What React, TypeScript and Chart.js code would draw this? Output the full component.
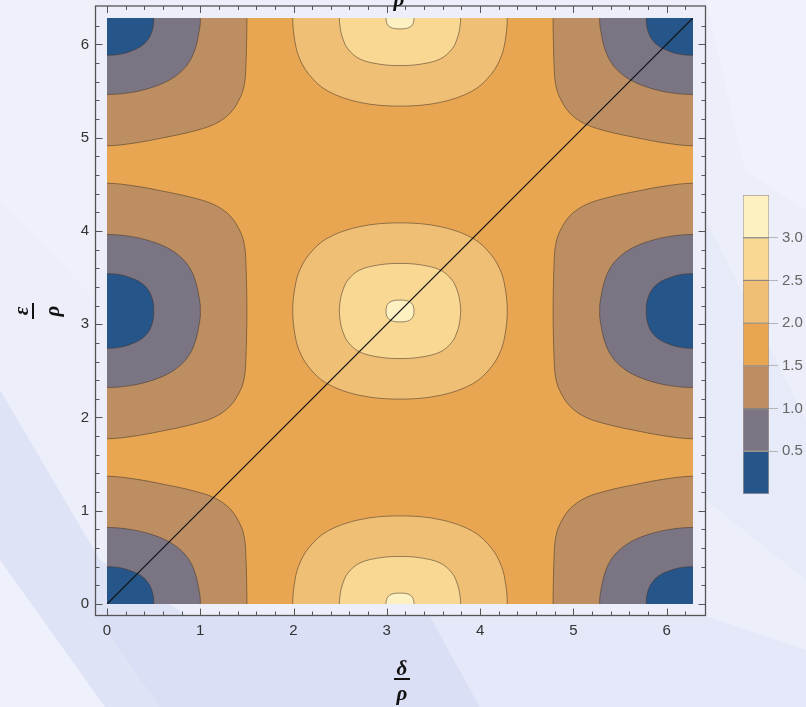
import React, { useEffect, useRef } from 'react';
import { Chart, registerables } from 'chart.js';

Chart.register(...registerables);

const PI = Math.PI;
const TWO_PI = 2 * Math.PI;

// Contour levels; band i lies between LEVELS[i] and LEVELS[i + 1]
const LEVELS = [0, 0.5, 1.0, 1.5, 2.0, 2.5, 3.0, 3.5];
const BAND_COLORS = ['#26558a', '#7b7483', '#bc8e62', '#e8a653', '#f0bf76', '#f9d894', '#fdf1c2'];
const CONTOUR_LINE = 'rgba(70, 55, 40, 0.55)';

// Axis ticks
const X_TICKS = [0, 1, 2, 3, 4, 5, 6];
const Y_TICKS = [0, 1, 2, 3, 4, 5, 6];
const BAR_TICKS = [0.5, 1.0, 1.5, 2.0, 2.5, 3.0];

// Minima (wells) and maxima (peaks) of the surface, in (δ/ρ, ε/ρ)
const WELL_CENTERS = [[0, 0], [0, PI], [0, TWO_PI], [TWO_PI, 0], [TWO_PI, PI], [TWO_PI, TWO_PI]];
const PEAK_CENTERS = [[PI, 0], [PI, PI], [PI, TWO_PI]];

// Quarter outlines of each contour (offsets from the centre, upper-right
// quadrant), running from the top of the curve round to its right side.
const WELL_05 = [[0, 0.40], [0.14, 0.39], [0.27, 0.35], [0.37, 0.30], [0.44, 0.23], [0.48, 0.15], [0.5, 0.06], [0.5, 0]];
const WELL_10 = [[0, 0.82], [0.25, 0.80], [0.48, 0.745], [0.67, 0.665], [0.81, 0.56], [0.90, 0.44], [0.955, 0.30], [0.985, 0.16], [1.0, 0.06], [1.0, 0]];
const WELL_15 = [[0, 1.37], [0.3, 1.34], [0.6, 1.285], [0.9, 1.22], [1.15, 1.14], [1.32, 1.02], [1.43, 0.85], [1.475, 0.7], [1.49, 0.5], [1.497, 0.25], [1.5, 0.08], [1.5, 0]];
const PEAK_20 = [[0, 0.945], [0.43, 0.905], [0.78, 0.78], [0.98, 0.60], [1.09, 0.40], [1.135, 0.2], [1.149, 0.06], [1.15, 0]];
const PEAK_25 = [[0, 0.51], [0.22, 0.495], [0.43, 0.44], [0.56, 0.33], [0.62, 0.2], [0.645, 0.08], [0.65, 0]];
const PEAK_30 = [[0, 0.117], [0.06, 0.113], [0.105, 0.098], [0.135, 0.07], [0.148, 0.03], [0.15, 0]];

// Diagonal ε = δ
const DIAGONAL = [[0, 0], [TWO_PI, TWO_PI]];

const TICK_FONT = { family: '"Liberation Sans", Arial, sans-serif', size: 15 };
const TITLE_FONT = 'italic bold 21px "Liberation Serif", "DejaVu Serif", serif';

// Close a quarter outline into a full loop by mirroring it into the other quadrants.
function ring(q: number[][]): number[][] {
  const ul = q.slice().reverse().map(([x, y]) => [-x, y]);
  const ur = q.slice(1);
  const lr = q.slice().reverse().slice(1).map(([x, y]) => [x, -y]);
  const ll = q.slice(1).map(([x, y]) => [-x, -y]);
  return [...ul, ...ur, ...lr, ...ll];
}

function contour(q: number[][], centre: number[], color: string) {
  const [cx, cy] = centre;
  return {
    data: ring(q).map(([dx, dy]) => ({ x: cx + dx, y: cy + dy })),
    fill: 'shape',
    backgroundColor: color,
    borderColor: CONTOUR_LINE,
    borderWidth: 1,
    pointRadius: 0,
    tension: 0.35,
  };
}

function buildDatasets() {
  // painted from the outside in
  const painted: any[] = [];
  WELL_CENTERS.forEach((c) => painted.push(contour(WELL_15, c, BAND_COLORS[2])));
  WELL_CENTERS.forEach((c) => painted.push(contour(WELL_10, c, BAND_COLORS[1])));
  WELL_CENTERS.forEach((c) => painted.push(contour(WELL_05, c, BAND_COLORS[0])));
  PEAK_CENTERS.forEach((c) => painted.push(contour(PEAK_20, c, BAND_COLORS[4])));
  PEAK_CENTERS.forEach((c) => painted.push(contour(PEAK_25, c, BAND_COLORS[5])));
  PEAK_CENTERS.forEach((c) => painted.push(contour(PEAK_30, c, BAND_COLORS[6])));
  const diagonal = {
    data: DIAGONAL.map(([x, y]) => ({ x, y })),
    fill: false,
    borderColor: '#111',
    borderWidth: 1.2,
    pointRadius: 0,
    tension: 0,
  };
  // Chart.js draws dataset 0 last, i.e. on top
  return [diagonal, ...painted.reverse()];
}

const framePlugin = {
  id: 'contourFrame',
  beforeDraw(chart: any) {
    const { ctx, chartArea: a } = chart;
    ctx.save();
    ctx.fillStyle = BAND_COLORS[3];
    ctx.fillRect(a.left, a.top, a.right - a.left, a.bottom - a.top);
    ctx.restore();
  },
  afterDraw(chart: any) {
    const { ctx, chartArea: a, scales } = chart;
    const xs = scales.x;
    const ys = scales.y;
    const L = a.left - 11.5;
    const R = a.right + 12.5;
    const T = a.top - 12;
    const B = a.bottom + 11.5;

    ctx.save();
    ctx.strokeStyle = '#555';
    ctx.lineWidth = 1.3;
    ctx.strokeRect(L, T, R - L, B - T);

    const minor: number[] = [];
    for (let k = 1; k < 32; k++) if (k % 5 !== 0) minor.push(k * 0.2);

    ctx.lineWidth = 1;
    ctx.beginPath();
    const xTick = (v: number, len: number) => {
      const p = Math.round(xs.getPixelForValue(v)) + 0.5;
      ctx.moveTo(p, B); ctx.lineTo(p, B - len);
      ctx.moveTo(p, T); ctx.lineTo(p, T + len);
    };
    const yTick = (v: number, len: number) => {
      const p = Math.round(ys.getPixelForValue(v)) + 0.5;
      ctx.moveTo(L, p); ctx.lineTo(L + len, p);
      ctx.moveTo(R, p); ctx.lineTo(R - len, p);
    };
    X_TICKS.forEach((v) => xTick(v, 7));
    Y_TICKS.forEach((v) => yTick(v, 7));
    minor.forEach((v) => { xTick(v, 4); yTick(v, 4); });
    ctx.stroke();

    // axis titles as stacked fractions
    ctx.fillStyle = '#111';
    ctx.font = TITLE_FONT;
    ctx.textAlign = 'center';
    ctx.textBaseline = 'alphabetic';
    const xc = (a.left + a.right) / 2 + 2;
    ctx.fillText('δ', xc, 675);
    ctx.fillRect(xc - 8, 678, 16, 2);
    ctx.fillText('ρ', xc, 700);

    ctx.fillText('ρ', xc - 3, 6);

    ctx.translate(42, (a.top + a.bottom) / 2);
    ctx.rotate(-Math.PI / 2);
    ctx.fillText('ε', 0, -14);
    ctx.fillRect(-8, -10, 16, 2);
    ctx.fillText('ρ', 0, 17);
    ctx.restore();
  },
};

const noOverhang = (s: any) => {
  s.paddingTop = 0;
  s.paddingBottom = 0;
  s.paddingLeft = 0;
  s.paddingRight = 0;
};

function ContourPlot() {
  const ref = useRef<HTMLCanvasElement>(null);
  useEffect(() => {
    const chart = new Chart(ref.current!, {
      type: 'line',
      data: { datasets: buildDatasets() as any },
      options: {
        responsive: false,
        animation: false,
        devicePixelRatio: 1,
        layout: { padding: { top: 18, right: 113, left: 0, bottom: 0 } },
        plugins: { legend: { display: false }, tooltip: { enabled: false } },
        elements: { line: { capBezierPoints: false }, point: { radius: 0 } },
        scales: {
          x: {
            type: 'linear',
            min: 0,
            max: TWO_PI,
            afterBuildTicks: (s: any) => { s.ticks = X_TICKS.map((v) => ({ value: v })); },
            afterFit: (s: any) => { s.height = 103; noOverhang(s); },
            grid: { display: false, drawTicks: false },
            border: { display: false },
            ticks: { font: TICK_FONT, color: '#333', padding: 18, maxRotation: 0 },
          },
          y: {
            type: 'linear',
            min: 0,
            max: TWO_PI,
            afterBuildTicks: (s: any) => { s.ticks = Y_TICKS.map((v) => ({ value: v })); },
            afterFit: (s: any) => { s.width = 107; noOverhang(s); },
            grid: { display: false, drawTicks: false },
            border: { display: false },
            ticks: { font: TICK_FONT, color: '#333', padding: 18 },
          },
        },
      },
      plugins: [framePlugin],
    } as any);
    return () => chart.destroy();
  }, []);
  return (
    <canvas ref={ref} width={806} height={707} style={{ position: 'absolute', left: 0, top: 0 }} />
  );
}

function ColorBar() {
  const ref = useRef<HTMLCanvasElement>(null);
  useEffect(() => {
    const chart = new Chart(ref.current!, {
      type: 'bar',
      data: {
        labels: [''],
        datasets: BAND_COLORS.map((c, i) => ({
          data: [[LEVELS[i], LEVELS[i + 1]]],
          backgroundColor: c,
          borderColor: 'rgba(80, 60, 40, 0.45)',
          borderWidth: 1,
          borderSkipped: false,
          grouped: false,
          barPercentage: 1,
          categoryPercentage: 1,
        })),
      },
      options: {
        responsive: false,
        animation: false,
        devicePixelRatio: 1,
        layout: { padding: { left: 13, top: 15, bottom: 16, right: 0 } },
        plugins: { legend: { display: false }, tooltip: { enabled: false } },
        scales: {
          x: { display: false },
          y: {
            position: 'right',
            min: 0,
            max: 3.5,
            afterBuildTicks: (s: any) => { s.ticks = BAR_TICKS.map((v) => ({ value: v })); },
            afterFit: (s: any) => { s.width = 37; noOverhang(s); },
            border: { display: false },
            grid: { drawOnChartArea: false, tickLength: 9, color: '#b5b5b5' },
            ticks: {
              padding: 4,
              color: '#666',
              font: TICK_FONT,
              callback: (v: any) => Number(v).toFixed(1),
            },
          },
        },
      },
    } as any);
    return () => chart.destroy();
  }, []);
  return (
    <canvas ref={ref} width={76} height={330} style={{ position: 'absolute', left: 730, top: 180 }} />
  );
}

function Backdrop() {
  return (
    <svg width={806} height={707} style={{ position: 'absolute', left: 0, top: 0 }}>
      <rect x={0} y={0} width={806} height={707} fill="#eceef9" />
      <polygon points="0,390 100,560 330,707 0,707" fill="#dfe3f6" />
      <polygon points="0,560 105,707 0,707" fill="#eef0fb" />
      <polygon points="96,616 430,616 480,707 160,707" fill="#dadff5" />
      <polygon points="430,616 706,616 806,650 806,707 480,707" fill="#e5e8f8" />
      <polygon points="706,0 806,0 806,210 745,170" fill="#f0f2fb" />
      <polygon points="706,220 806,420 806,580 706,500" fill="#e7eaf8" />
      <polygon points="0,0 96,0 96,300 0,200" fill="#eef0fa" />
    </svg>
  );
}

export default function App() {
  return (
    <div style={{ position: 'fixed', left: 0, top: 0, width: 806, height: 707, overflow: 'hidden' }}>
      <Backdrop />
      <ContourPlot />
      <ColorBar />
    </div>
  );
}
